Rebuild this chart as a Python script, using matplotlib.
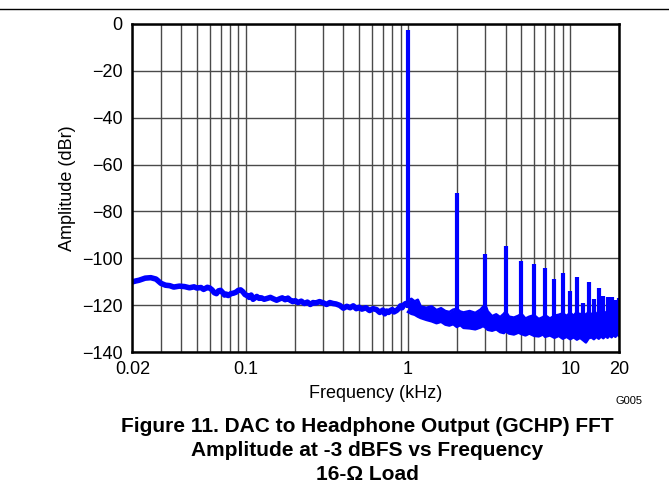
import matplotlib

matplotlib.use("Agg")
import matplotlib.pyplot as plt
from matplotlib.lines import Line2D
from matplotlib.ticker import FixedLocator, NullFormatter

# 低频段噪声底 (0.02 kHz ~ 1 kHz)
low_khz = [0.020, 0.021, 0.022, 0.024, 0.026, 0.028, 0.030, 0.032, 0.034, 0.036,
           0.039, 0.042, 0.045, 0.048, 0.050, 0.053, 0.055, 0.058, 0.060, 0.062,
           0.064, 0.066, 0.068, 0.070, 0.072, 0.074, 0.076, 0.078, 0.081, 0.084,
           0.087, 0.090, 0.093, 0.096, 0.099, 0.102, 0.105, 0.108, 0.111, 0.114,
           0.117, 0.121, 0.125, 0.130, 0.136, 0.142, 0.148, 0.155, 0.162, 0.168,
           0.175, 0.182, 0.188, 0.195, 0.202, 0.21, 0.22, 0.23, 0.24, 0.25,
           0.26, 0.27, 0.285, 0.30, 0.315, 0.33, 0.345, 0.36, 0.38, 0.40,
           0.42, 0.44, 0.46, 0.48, 0.50, 0.52, 0.55, 0.58, 0.61, 0.64,
           0.67, 0.70, 0.72, 0.74, 0.76, 0.78, 0.80, 0.82, 0.85, 0.88,
           0.90, 0.92, 0.95, 0.97, 1.0]
low_db = [-110.0, -109.6, -109.3, -108.4, -108.2, -108.8, -110.6, -111.4, -111.6, -112.2,
          -111.8, -112.0, -112.5, -112.1, -112.6, -112.4, -113.2, -112.3, -112.6, -113.4,
          -114.6, -115.0, -113.8, -113.6, -114.5, -115.6, -115.2, -115.8, -115.0, -114.8,
          -114.4, -113.6, -113.4, -114.2, -115.4, -115.8, -116.6, -115.6, -117.4, -116.8,
          -116.2, -117.0, -116.8, -117.4, -117.0, -116.6, -117.2, -117.8, -117.2, -116.8,
          -117.6, -116.9, -117.8, -118.4, -118.0, -118.8, -118.2, -119.2, -118.6, -119.6,
          -118.8, -119.0, -118.4, -118.9, -119.6, -118.8, -119.2, -119.4, -120.0, -121.2,
          -120.4, -121.0, -120.2, -121.4, -120.8, -121.6, -121.0, -122.2, -121.4, -121.8,
          -123.0, -122.0, -123.6, -122.4, -123.0, -122.2, -121.8, -122.8, -122.2, -121.2,
          -120.2, -121.0, -119.6, -119.2, -119.5]

# 高频段噪声带 (1 kHz ~ 20 kHz) 上下边缘
high_khz = [1.0, 1.05, 1.1, 1.15, 1.2, 1.3, 1.4, 1.5, 1.6, 1.7,
            1.8, 1.9, 2.0, 2.1, 2.2, 2.4, 2.6, 2.8, 2.9, 3.0,
            3.1, 3.3, 3.5, 3.7, 3.9, 4.0, 4.2, 4.5, 4.8, 5.0,
            5.3, 5.6, 6.0, 6.4, 6.8, 7.0, 7.5, 8.0, 8.5, 9.0,
            9.5, 10, 10.5, 11, 11.5, 12, 12.5, 13, 13.5, 14,
            14.5, 15, 15.5, 16, 16.5, 17, 17.5, 18, 18.5, 19, 19.5, 20]
high_upper = [-118.0, -117.2, -118.3, -117.6, -120.5, -121.0, -120.4, -122.0, -121.2, -122.4,
              -122.8, -121.8, -121.5, -122.6, -123.0, -122.4, -123.2, -121.8, -120.6, -119.8,
              -122.5, -124.6, -123.8, -125.0, -123.6, -122.6, -124.8, -125.2, -124.4, -123.6,
              -125.6, -124.8, -124.2, -125.8, -125.0, -124.2, -125.6, -124.4, -124.0, -123.4,
              -124.5, -123.2, -124.4, -122.8, -124.0, -123.0, -124.2, -122.6, -124.0, -122.8,
              -123.8, -122.4, -123.6, -122.2, -123.4, -122.4, -123.6, -122.6, -123.8, -122.8, -124.0, -123.0]
high_lower = [-122.8, -123.6, -124.0, -124.8, -125.4, -126.2, -126.8, -127.6, -127.0, -128.2,
              -128.6, -128.0, -129.2, -128.4, -129.6, -129.8, -130.2, -129.4, -128.8, -129.4,
              -130.4, -130.8, -130.2, -131.4, -131.8, -131.0, -132.0, -132.4, -131.6, -132.2,
              -132.8, -132.0, -133.0, -133.2, -132.4, -133.4, -132.8, -133.8, -133.0, -134.2,
              -133.4, -134.4, -133.6, -134.6, -133.8, -134.8, -135.8, -134.0, -133.6, -134.4,
              -133.4, -134.2, -133.2, -134.0, -133.0, -133.8, -132.8, -133.6, -132.6, -133.4, -132.4, -133.0]

# 基波及各次谐波
harm_khz = [1, 2, 3, 4, 5, 6, 7, 8, 9, 10, 11, 12, 13, 14, 15, 16, 17, 18, 19, 20]
harm_db = [-2.5, -72.3, -98.0, -94.8, -101.2, -102.4, -103.9, -108.8, -106.0, -114.0,
           -107.8, -118.9, -110.0, -117.2, -112.4, -116.0, -116.3, -116.6, -117.6, -117.0]
harm_base = [-121, -126, -128, -129, -130, -130, -131, -131, -132, -132,
             -132, -132, -132, -132, -132, -132, -132, -132, -132, -132]

x_ticks = [0.02, 0.1, 1, 10, 20]
x_labels = ["0.02", "0.1", "1", "10", "20"]
x_minor = [0.03, 0.04, 0.05, 0.06, 0.07, 0.08, 0.09,
           0.2, 0.3, 0.4, 0.5, 0.6, 0.7, 0.8, 0.9,
           2, 3, 4, 5, 6, 7, 8, 9]
y_ticks = [0, -20, -40, -60, -80, -100, -120, -140]

LINE_BLUE = "#0000ff"
GRID_GRAY = "#4a4a4a"


def main() -> None:
    plt.rcParams["font.family"] = ["Liberation Sans", "DejaVu Sans"]
    plt.rcParams["axes.unicode_minus"] = True

    fig = plt.figure(figsize=(6.69, 4.97), dpi=100)
    ax = fig.add_axes([0.1978, 0.2911, 0.7275, 0.6612])

    ax.set_xscale("log")
    ax.set_xlim(0.02, 20)
    ax.set_ylim(-140, 0)

    # 网格
    ax.xaxis.set_major_locator(FixedLocator(x_ticks))
    ax.xaxis.set_minor_locator(FixedLocator(x_minor))
    ax.xaxis.set_minor_formatter(NullFormatter())
    ax.set_xticklabels(x_labels)
    ax.set_yticks(y_ticks)
    ax.grid(True, which="both", color=GRID_GRAY, linewidth=1.0)
    ax.set_axisbelow(True)
    ax.tick_params(which="both", length=0, labelsize=13, colors="black")
    ax.tick_params(axis="y", pad=7)
    ax.tick_params(axis="x", pad=6)

    # 噪声底
    ax.plot(low_khz, low_db, color=LINE_BLUE, linewidth=4.0, solid_joinstyle="round", zorder=3)
    ax.fill_between(high_khz, high_lower, high_upper, color=LINE_BLUE, linewidth=0, zorder=3)
    ax.plot(high_khz, high_upper, color=LINE_BLUE, linewidth=1.8, zorder=3)
    ax.plot(high_khz, high_lower, color=LINE_BLUE, linewidth=1.8, zorder=3)

    # 谐波
    ax.vlines(harm_khz, harm_base, harm_db, color=LINE_BLUE, linewidth=3.0, zorder=4)

    for spine in ax.spines.values():
        spine.set_linewidth(1.8)
        spine.set_color("black")
        spine.set_zorder(5)

    ax.set_xlabel("Frequency (kHz)", fontsize=13, labelpad=5)
    ax.set_ylabel("Amplitude (dBr)", fontsize=13, labelpad=4)

    fig.text(629 / 669, 1 - 401 / 497, "G005", fontsize=8, ha="center", va="center")

    title_lines = ["Figure 11. DAC to Headphone Output (GCHP) FFT",
                   "Amplitude at -3 dBFS vs Frequency",
                   "16-Ω Load"]
    for i, line in enumerate(title_lines):
        fig.text(367 / 669, 1 - (426 + 24 * i) / 497, line, fontsize=15, fontweight="bold",
                 ha="center", va="center")

    fig.add_artist(Line2D([0, 1], [1 - 9 / 497, 1 - 9 / 497], color="black", linewidth=1.0))

    fig.savefig("out.png", dpi=100)
    plt.close(fig)


if __name__ == "__main__":
    main()
